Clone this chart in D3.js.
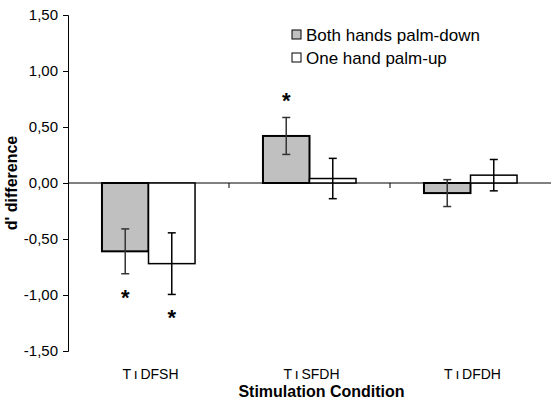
<!DOCTYPE html>
<html>
<head>
<meta charset="utf-8">
<script src="https://cdn.jsdelivr.net/npm/d3@7"></script>
<style>
  body { margin: 0; background: #fff; }
  text { font-family: "Liberation Sans", Arial, sans-serif; }
</style>
</head>
<body>
<div id="chart"></div>
<script>
// data
const categories = ["T\u2009\u0131\u2009DFSH", "T\u2009\u0131\u2009SFDH", "T\u2009\u0131\u2009DFDH"];
const seriesNames = ["Both hands palm-down", "One hand palm-up"];
const palmDown = [-0.61, 0.42, -0.09];
const palmDownErr = [0.20, 0.165, 0.12];
const palmUp = [-0.72, 0.04, 0.07];
const palmUpErr = [0.275, 0.18, 0.14];
// significance stars: [series index, category index]
const stars = [[0, 0], [1, 0], [0, 1]];
const yTicks = [-1.5, -1.0, -0.5, 0, 0.5, 1.0, 1.5];

const W = 558, H = 410;
const margin = {top: 15, right: 7, bottom: 59, left: 68};
const colors = ["#c0c0c0", "#ffffff"];

const svg = d3.select("#chart").append("svg")
    .attr("width", W)
    .attr("height", H);

const y = d3.scaleLinear().domain([-1.5, 1.5]).range([H - margin.bottom, margin.top]);
const x = d3.scaleBand().domain(categories).range([margin.left, W - margin.right]);
const xs = d3.scaleBand().domain([0, 1]).range([0, x.bandwidth()]).paddingOuter(0.73);

const fmt = d => d3.format(".2f")(d).replace(".", ",").replace("−", "-");

// y axis
const yAxis = svg.append("g")
    .attr("transform", `translate(${margin.left},0)`)
    .call(d3.axisLeft(y).tickValues(yTicks).tickSize(5).tickFormat(fmt));
yAxis.select(".domain").attr("stroke", "#000");
yAxis.selectAll(".tick line").attr("stroke", "#000");
yAxis.selectAll(".tick text")
    .attr("font-size", 15)
    .attr("fill", "#000")
    .attr("x", -10);

// zero line with category ticks
svg.append("line")
    .attr("x1", margin.left).attr("x2", W - margin.right)
    .attr("y1", y(0)).attr("y2", y(0))
    .attr("stroke", "#000");
categories.slice(1).forEach(c => {
    svg.append("line")
        .attr("x1", x(c)).attr("x2", x(c))
        .attr("y1", y(0)).attr("y2", y(0) + 5)
        .attr("stroke", "#000");
});

const series = [
    {vals: palmDown, errs: palmDownErr},
    {vals: palmUp, errs: palmUpErr}
];

series.forEach((s, si) => {
    const g = svg.append("g");
    g.selectAll("rect")
        .data(s.vals)
        .enter().append("rect")
        .attr("x", (d, i) => x(categories[i]) + xs(si))
        .attr("width", xs.bandwidth())
        .attr("y", d => y(Math.max(0, d)))
        .attr("height", d => Math.abs(y(d) - y(0)))
        .attr("fill", colors[si])
        .attr("stroke", "#000")
        .attr("stroke-width", si == 0 ? 2 : 1.5);

    // error bars
    s.vals.forEach((v, i) => {
        const cx = x(categories[i]) + xs(si) + xs.bandwidth() / 2;
        const e = s.errs[i];
        const eg = svg.append("g").attr("stroke", si == 0 ? "#333" : "#000").attr("stroke-width", 1.5);
        eg.append("line").attr("x1", cx).attr("x2", cx).attr("y1", y(v + e)).attr("y2", y(v - e));
        [v + e, v - e].forEach(t => {
            eg.append("line").attr("x1", cx - 4).attr("x2", cx + 4).attr("y1", y(t)).attr("y2", y(t));
        });
    });
});

// asterisks
stars.forEach(([si, ci]) => {
    const v = series[si].vals[ci], e = series[si].errs[ci];
    const cx = x(categories[ci]) + xs(si) + xs.bandwidth() / 2;
    const ty = v < 0 ? y(v - e) + 31 : y(v + e) - 9;
    svg.append("text")
        .attr("x", cx).attr("y", ty)
        .attr("text-anchor", "middle")
        .attr("font-size", 22)
        .attr("font-weight", "bold")
        .text("*");
});

// category labels
svg.selectAll(".cat")
    .data(categories)
    .enter().append("text")
    .attr("class", "cat")
    .attr("x", d => x(d) + x.bandwidth() / 2 + 2)
    .attr("y", 379)
    .attr("text-anchor", "middle")
    .attr("font-size", 14)
    .text(d => d);

// axis titles
svg.append("text")
    .attr("x", (margin.left + W - margin.right) / 2 + 12)
    .attr("y", 397)
    .attr("text-anchor", "middle")
    .attr("font-size", 16)
    .attr("font-weight", "bold")
    .text("Stimulation Condition");

svg.append("text")
    .attr("transform", `translate(17,${y(0)}) rotate(-90)`)
    .attr("text-anchor", "middle")
    .attr("font-size", 16)
    .attr("font-weight", "bold")
    .text("d' difference");

// legend
const legend = svg.append("g").attr("transform", "translate(292,30)");
seriesNames.forEach((n, i) => {
    legend.append("rect")
        .attr("x", 0).attr("y", i * 23)
        .attr("width", 9).attr("height", 9)
        .attr("fill", colors[i])
        .attr("stroke", "#000")
        .attr("stroke-width", 1);
    legend.append("text")
        .attr("x", 14).attr("y", i * 23 + 11)
        .attr("font-size", 17)
        .text(n);
});
</script>
</body>
</html>
